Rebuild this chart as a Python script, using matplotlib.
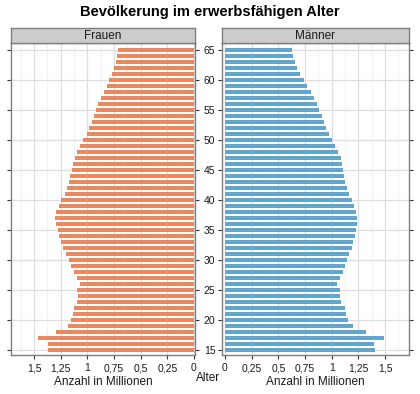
import matplotlib.pyplot as plt
from matplotlib.ticker import MultipleLocator

plt.rcParams['font.family'] = ['Liberation Sans', 'DejaVu Sans']

ages = list(range(15, 66))
frauen = [1.369, 1.369, 1.463, 1.294, 1.181, 1.153, 1.134, 1.125, 1.097, 1.088,
          1.097, 1.069, 1.097, 1.125, 1.153, 1.172, 1.200, 1.228, 1.247, 1.266,
          1.275, 1.294, 1.303, 1.294, 1.266, 1.247, 1.209, 1.190, 1.172, 1.163,
          1.144, 1.134, 1.116, 1.097, 1.069, 1.041, 1.003, 0.984, 0.956, 0.938,
          0.919, 0.900, 0.872, 0.844, 0.816, 0.797, 0.769, 0.750, 0.731, 0.722,
          0.713]
maenner = [1.403, 1.394, 1.488, 1.319, 1.197, 1.150, 1.131, 1.122, 1.084, 1.075,
           1.075, 1.047, 1.075, 1.103, 1.122, 1.140, 1.159, 1.188, 1.197, 1.216,
           1.225, 1.234, 1.234, 1.225, 1.206, 1.188, 1.159, 1.140, 1.122, 1.113,
           1.103, 1.094, 1.084, 1.056, 1.028, 1.000, 0.972, 0.944, 0.925, 0.906,
           0.878, 0.859, 0.831, 0.803, 0.766, 0.738, 0.700, 0.672, 0.653, 0.634,
           0.625]
xticks = [0, 0.25, 0.5, 0.75, 1, 1.25, 1.5]
xticklabels = ['0', '0,25', '0,5', '0,75', '1', '1,25', '1,5']
yticks = [15, 20, 25, 30, 35, 40, 45, 50, 55, 60, 65]

W, H = 420, 394
fig = plt.figure(figsize=(W / 100, H / 100), dpi=100)


def px(x0, y0, x1, y1):
    return [x0 / W, 1 - y1 / H, (x1 - x0) / W, (y1 - y0) / H]


edge = '#7f7f7f'
panels = [
    (px(11.3, 43, 195, 355), px(11.3, 28.3, 195, 43), frauen, '#E8895F', 'Frauen', True),
    (px(222.3, 43, 408.7, 355), px(222.3, 28.3, 408.7, 43), maenner, '#62A6CE', 'Männer', False),
]

for rect, srect, vals, color, name, left in panels:
    ax = fig.add_axes(rect)
    ax.barh(ages, vals, height=0.62, color=color, zorder=3)
    if left:
        ax.set_xlim(1.713, -0.01)
    else:
        ax.set_xlim(-0.025, 1.722)
    ax.set_ylim(14.15, 66.2)
    ax.set_xticks(xticks)
    ax.set_xticklabels(xticklabels)
    ax.xaxis.set_minor_locator(MultipleLocator(0.125))
    ax.set_yticks(yticks)
    ax.grid(True, which='major', color='#dedede', lw=0.9, zorder=0)
    ax.grid(True, which='minor', axis='x', color='#f0f0f0', lw=0.6, zorder=0)
    ax.tick_params(axis='y', which='both', left=True, right=True, length=3,
                   width=0.8, color='#333333', labelleft=False, labelright=False)
    ax.tick_params(axis='x', which='major', length=3, width=0.8, color='#333333',
                   labelsize=7.5, labelcolor='#1a1a1a', pad=3)
    ax.tick_params(axis='x', which='minor', length=0)
    if left:
        ax.tick_params(axis='y', labelright=True, labelsize=7.5, labelcolor='#1a1a1a', pad=7.6)
        for lab in ax.get_yticklabels():
            lab.set_horizontalalignment('center')
    for s in ax.spines.values():
        s.set_color(edge)
        s.set_linewidth(1)
    ax.set_xlabel('Anzahl in Millionen', fontsize=8.5, color='#1a1a1a', labelpad=2)

    sax = fig.add_axes(srect)
    sax.set_facecolor('#cccccc')
    sax.set_xticks([])
    sax.set_yticks([])
    for s in sax.spines.values():
        s.set_color(edge)
        s.set_linewidth(1)
    sax.text(0.5, 0.45, name, ha='center', va='center', fontsize=8.5,
             color='#1a1a1a', transform=sax.transAxes)

fig.text(208 / W, 1 - 378 / H, 'Alter', ha='center', va='center', fontsize=8.5, color='#1a1a1a')
fig.text(209.5 / W, 1 - 12 / H, 'Bevölkerung im erwerbsfähigen Alter', ha='center',
         va='center', fontsize=10.5, fontweight='bold')

fig.savefig('out.png', dpi=100)
